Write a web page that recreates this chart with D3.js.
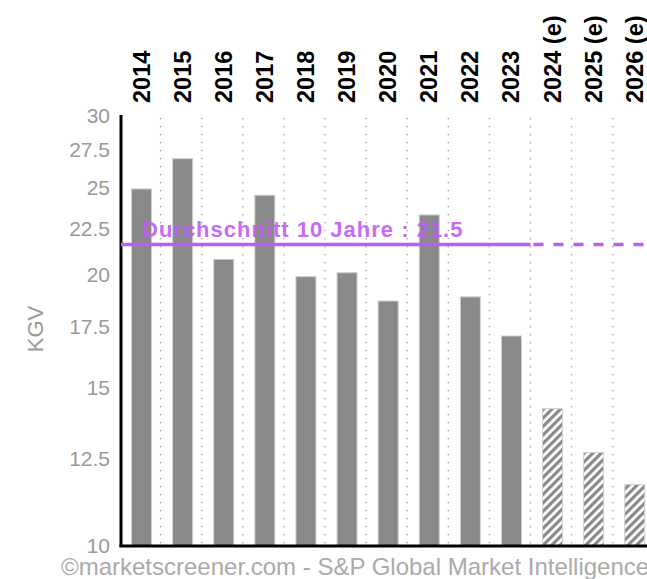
<!DOCTYPE html>
<html>
<head>
<meta charset="utf-8">
<script src="https://cdnjs.cloudflare.com/ajax/libs/d3/7.8.5/d3.min.js"></script>
<style>
  body { margin: 0; background: #fff; overflow: hidden; }
  svg { display: block; font-family: "Liberation Sans", Arial, sans-serif; }
</style>
</head>
<body>
<svg id="viz"></svg>
<script>
// ----------------------------------------------------------------------------------------------------------------
// DATA

var years = ["2014", "2015", "2016", "2017", "2018", "2019", "2020", "2021", "2022", "2023", "2024 (e)", "2025 (e)", "2026 (e)"];
var kgv = [24.9, 26.9, 20.8, 24.5, 19.9, 20.1, 18.7, 23.3, 18.9, 17.1, 14.2, 12.7, 11.7];
var estimated = [false, false, false, false, false, false, false, false, false, false, true, true, true];
var yTicks = [10, 12.5, 15, 17.5, 20, 22.5, 25, 27.5, 30];
var average = 21.5;
var averageLabel = "Durchschnitt 10 Jahre : 21.5";
var yTitle = "KGV";
var credit = "©marketscreener.com - S&P Global Market Intelligence";

// ----------------------------------------------------------------------------------------------------------------

(function() {

  // ----------------------------------------------------------------------------------------------------------------
  // INITIAL SETUP

  var w = 647;
  var h = 579;
  var viz = d3.select("#viz").attr("width", w).attr("height", h);

  var plotLeft = 121, plotTop = 116, plotBottom = 546, step = 41.1;

  var x = d3.scaleBand().domain(years).range([plotLeft, plotLeft + step * years.length]).padding(0);
  var y = d3.scaleLog().domain([10, 30]).range([plotBottom, plotTop]);
  var barW = 20;
  var purple = "#bf5cf6";

  // hatch pattern for the estimates
  var defs = viz.append("defs");
  var pat = defs.append("pattern")
    .attr("id", "hatch")
    .attr("patternUnits", "userSpaceOnUse")
    .attr("width", 6).attr("height", 6)
    .attr("patternTransform", "rotate(45)");
  pat.append("rect").attr("width", 6).attr("height", 6).attr("fill", "#fff");
  pat.append("rect").attr("width", 3.2).attr("height", 6).attr("fill", "#8a8a8a");

  // ----------------------------------------------------------------------------------------------------------------
  // CHART

  // dotted separators
  viz.selectAll("line.sep")
    .data(years.slice(0, -1))
    .enter()
    .append("line")
    .attr("class", "sep")
    .attr("x1", function(d) { return x(d) + step - 1.5; })
    .attr("x2", function(d) { return x(d) + step - 1.5; })
    .attr("y1", plotTop + 2)
    .attr("y2", plotBottom)
    .attr("stroke", "#999")
    .attr("stroke-width", 1.3)
    .attr("stroke-dasharray", "1.3,6.7");

  // bars
  viz.selectAll("rect.bar")
    .data(years)
    .enter()
    .append("rect")
    .attr("class", "bar")
    .attr("x", function(d) { return x(d) + x.bandwidth() / 2 - barW / 2; })
    .attr("y", function(d, i) { return y(kgv[i]); })
    .attr("width", barW)
    .attr("height", function(d, i) { return plotBottom - y(kgv[i]); })
    .attr("fill", function(d, i) { return estimated[i] ? "url(#hatch)" : "#898989"; })
    .attr("stroke", "#cfcfcf")
    .attr("stroke-width", 1);

  // year labels
  viz.selectAll("text.year")
    .data(years)
    .enter()
    .append("text")
    .attr("class", "year")
    .attr("transform", function(d) { return "translate(" + (x(d) + x.bandwidth() / 2 + 8) + ",103) rotate(-90)"; })
    .attr("text-anchor", "start")
    .attr("font-size", 23.5)
    .attr("font-weight", "bold")
    .attr("fill", "#000")
    .text(function(d) { return d; });

  // y axis
  var yAxis = viz.append("g")
    .attr("transform", "translate(" + plotLeft + ",0)")
    .call(d3.axisLeft(y).tickValues(yTicks).tickSize(0).tickPadding(11).tickFormat(function(d) { return d; }));
  yAxis.select(".domain").remove();
  yAxis.selectAll("text")
    .attr("font-size", 21)
    .attr("font-family", "Liberation Sans, Arial, sans-serif")
    .attr("fill", "#999");

  viz.append("text")
    .attr("transform", "translate(43,329) rotate(-90)")
    .attr("text-anchor", "middle")
    .attr("font-size", 22)
    .attr("fill", "#999")
    .text(yTitle);

  // axis lines
  viz.append("line")
    .attr("x1", plotLeft).attr("x2", plotLeft)
    .attr("y1", plotTop - 1).attr("y2", plotBottom + 1)
    .attr("stroke", "#000").attr("stroke-width", 3);
  viz.append("line")
    .attr("x1", plotLeft - 1.5).attr("x2", w)
    .attr("y1", plotBottom).attr("y2", plotBottom)
    .attr("stroke", "#000").attr("stroke-width", 3);

  // average line: solid over the history, dashed over the estimates
  var splitX = x(years[estimated.indexOf(true)]) - 1.5;
  var avgY = y(average) - 2;
  viz.append("line")
    .attr("x1", plotLeft).attr("x2", splitX)
    .attr("y1", avgY).attr("y2", avgY)
    .attr("stroke", purple).attr("stroke-width", 3.5);
  viz.append("line")
    .attr("x1", splitX + 3).attr("x2", w)
    .attr("y1", avgY).attr("y2", avgY)
    .attr("stroke", purple).attr("stroke-width", 3.5)
    .attr("stroke-dasharray", "10,10");

  viz.append("text")
    .attr("x", 142)
    .attr("y", avgY - 7)
    .attr("font-size", 22)
    .attr("letter-spacing", 1)
    .attr("font-weight", "bold")
    .attr("fill", purple)
    .attr("opacity", 0.9)
    .text(averageLabel);

  // credit
  viz.append("text")
    .attr("x", 61)
    .attr("y", 575)
    .attr("font-size", 24)
    .attr("fill", "#aaa")
    .text(credit);

})();
</script>
</body>
</html>
